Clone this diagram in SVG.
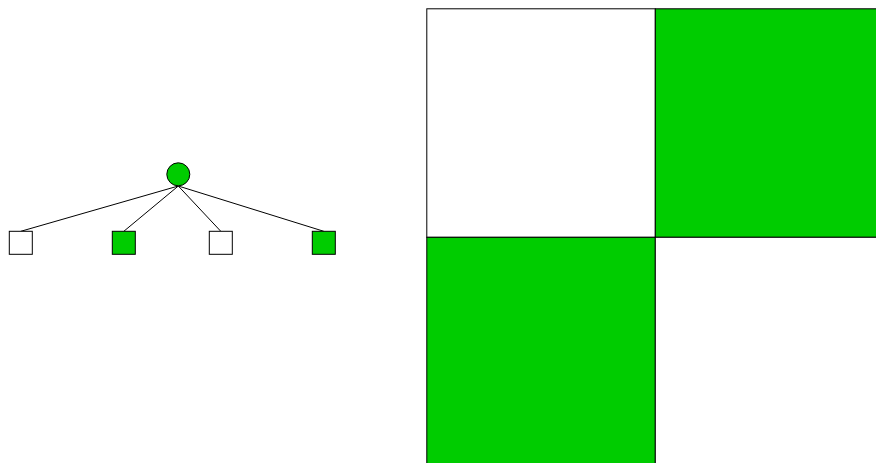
<svg xmlns="http://www.w3.org/2000/svg" width="876" height="463" viewBox="0 0 876 463">
<style>
.w{fill:#ffffff;stroke:#000000;stroke-width:1}
.g{fill:#00cc00;stroke:#000000;stroke-width:1}
.e{stroke:#000000;stroke-width:1;fill:none}
</style>
<rect width="876" height="463" fill="#ffffff"/>
<g id="connectors">
<line class="e" x1="178.3" y1="186" x2="20.8" y2="231.3"/>
<line class="e" x1="178.3" y1="186" x2="123.8" y2="231.3"/>
<line class="e" x1="178.3" y1="186" x2="220.8" y2="231.3"/>
<line class="e" x1="178.3" y1="186" x2="323.8" y2="231.3"/>
</g>
<g id="root"><circle class="g" cx="178.3" cy="174.3" r="11.5"/></g>
<g id="leaf1"><rect class="w" x="9.3" y="231.3" width="23" height="23"/></g>
<g id="leaf2"><rect class="g" x="112.3" y="231.3" width="23" height="23"/></g>
<g id="leaf3"><rect class="w" x="209.3" y="231.3" width="23" height="23"/></g>
<g id="leaf4"><rect class="g" x="312.3" y="231.3" width="23" height="23"/></g>
<g id="cell-tl"><rect class="w" x="426.8" y="8.8" width="228.5" height="228.5"/></g>
<g id="cell-tr"><rect class="g" x="655.3" y="8.8" width="228.5" height="228.5"/></g>
<g id="cell-bl"><rect class="g" x="426.8" y="237.3" width="228.5" height="228.5"/></g>
<g id="cell-br"><rect class="w" x="655.3" y="237.3" width="228.5" height="228.5"/></g>
</svg>
